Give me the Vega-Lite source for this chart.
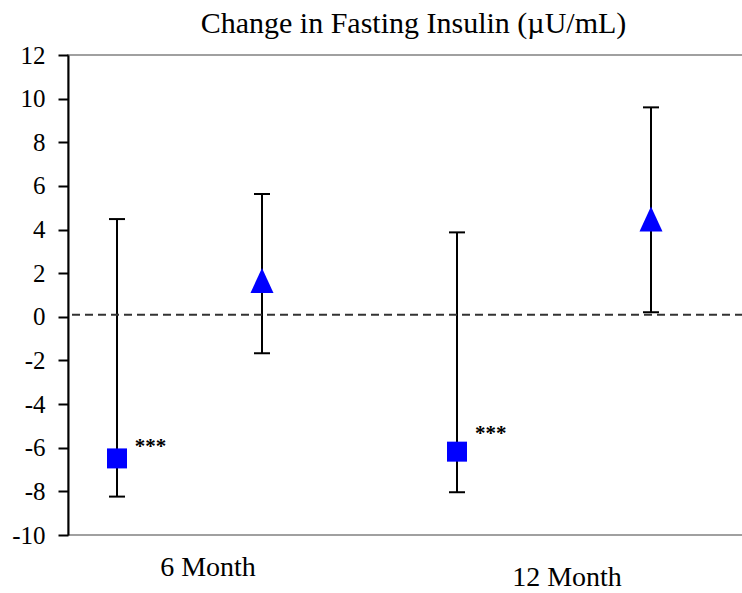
{
  "$schema": "https://vega.github.io/schema/vega-lite/v6.json",
  "width": 675,
  "height": 480,
  "autosize": {"type": "none"},
  "padding": {"left": 68, "top": 55, "right": 0, "bottom": 58},
  "background": "white",
  "config": {
    "view": {"stroke": "#a0a0a0", "strokeWidth": 2},
    "font": "Liberation Serif"
  },
  "title": {
    "text": "Change in Fasting Insulin (µU/mL)",
    "fontSize": 30,
    "font": "Liberation Serif",
    "fontWeight": "normal",
    "color": "black",
    "offset": 4,
    "dx": 8
  },
  "datasets": {
    "points": [
      {"time": "6 Month", "group": "A", "pos": 0.726, "mean": -6.49, "lo": -8.24, "hi": 4.48},
      {"time": "6 Month", "group": "B", "pos": 2.874, "mean": 1.67, "lo": -1.67, "hi": 5.63},
      {"time": "12 Month", "group": "A", "pos": 5.763, "mean": -6.18, "lo": -8.04, "hi": 3.87},
      {"time": "12 Month", "group": "B", "pos": 8.637, "mean": 4.48, "lo": 0.21, "hi": 9.6}
    ],
    "notes": [
      {"pos": 0.99, "y": -5.95, "text": "***"},
      {"pos": 6.03, "y": -5.35, "text": "***"}
    ],
    "labels": [
      {"pos": 2.074, "y": -11.51, "text": "6 Month"},
      {"pos": 7.393, "y": -11.97, "text": "12 Month"}
    ],
    "ref": [{"level": 0.1}]
  },
  "layer": [
    {
      "data": {"name": "points"},
      "mark": {"type": "rule", "color": "black", "strokeWidth": 2},
      "encoding": {
        "x": {"field": "pos", "type": "quantitative", "scale": {"domain": [0, 10]}, "axis": null},
        "y": {
          "field": "lo",
          "type": "quantitative",
          "scale": {"domain": [-10, 12], "nice": false, "zero": false},
          "axis": {
            "title": null,
            "values": [-10, -8, -6, -4, -2, 0, 2, 4, 6, 8, 10, 12],
            "labelExpr": "'' + datum.value",
            "grid": false,
            "labelFont": "Liberation Serif",
            "labelFontSize": 25,
            "labelColor": "black",
            "labelPadding": 13,
            "tickSize": 10,
            "tickWidth": 2,
            "tickColor": "black",
            "domainColor": "black",
            "domainWidth": 2
          }
        },
        "y2": {"field": "hi"}
      }
    },
    {
      "data": {"name": "ref"},
      "mark": {"type": "rule", "color": "#333333", "strokeWidth": 2, "strokeDash": [8, 5]},
      "encoding": {"y": {"field": "level", "type": "quantitative"}}
    },
    {
      "data": {"name": "points"},
      "mark": {"type": "tick", "orient": "horizontal", "color": "black", "size": 16, "thickness": 2, "opacity": 1},
      "encoding": {
        "x": {"field": "pos", "type": "quantitative"},
        "y": {"field": "lo", "type": "quantitative"}
      }
    },
    {
      "data": {"name": "points"},
      "mark": {"type": "tick", "orient": "horizontal", "color": "black", "size": 16, "thickness": 2, "opacity": 1},
      "encoding": {
        "x": {"field": "pos", "type": "quantitative"},
        "y": {"field": "hi", "type": "quantitative"}
      }
    },
    {
      "data": {"name": "points"},
      "transform": [{"filter": "datum.group === 'A'"}],
      "mark": {"type": "point", "shape": "square", "filled": true, "color": "#0000ff", "size": 400, "opacity": 1},
      "encoding": {
        "x": {"field": "pos", "type": "quantitative"},
        "y": {"field": "mean", "type": "quantitative"}
      }
    },
    {
      "data": {"name": "points"},
      "transform": [{"filter": "datum.group === 'B'"}],
      "mark": {"type": "point", "shape": "M-0.92,1L0.92,1L0,-1Z", "filled": true, "color": "#0000ff", "size": 625, "opacity": 1},
      "encoding": {
        "x": {"field": "pos", "type": "quantitative"},
        "y": {"field": "mean", "type": "quantitative"}
      }
    },
    {
      "data": {"name": "notes"},
      "mark": {"type": "text", "align": "left", "baseline": "middle", "fontSize": 21, "fontWeight": "bold", "color": "black"},
      "encoding": {
        "x": {"field": "pos", "type": "quantitative"},
        "y": {"field": "y", "type": "quantitative"},
        "text": {"field": "text"}
      }
    },
    {
      "data": {"name": "labels"},
      "mark": {"type": "text", "align": "center", "baseline": "middle", "fontSize": 28, "color": "black"},
      "encoding": {
        "x": {"field": "pos", "type": "quantitative"},
        "y": {"field": "y", "type": "quantitative"},
        "text": {"field": "text"}
      }
    }
  ]
}
